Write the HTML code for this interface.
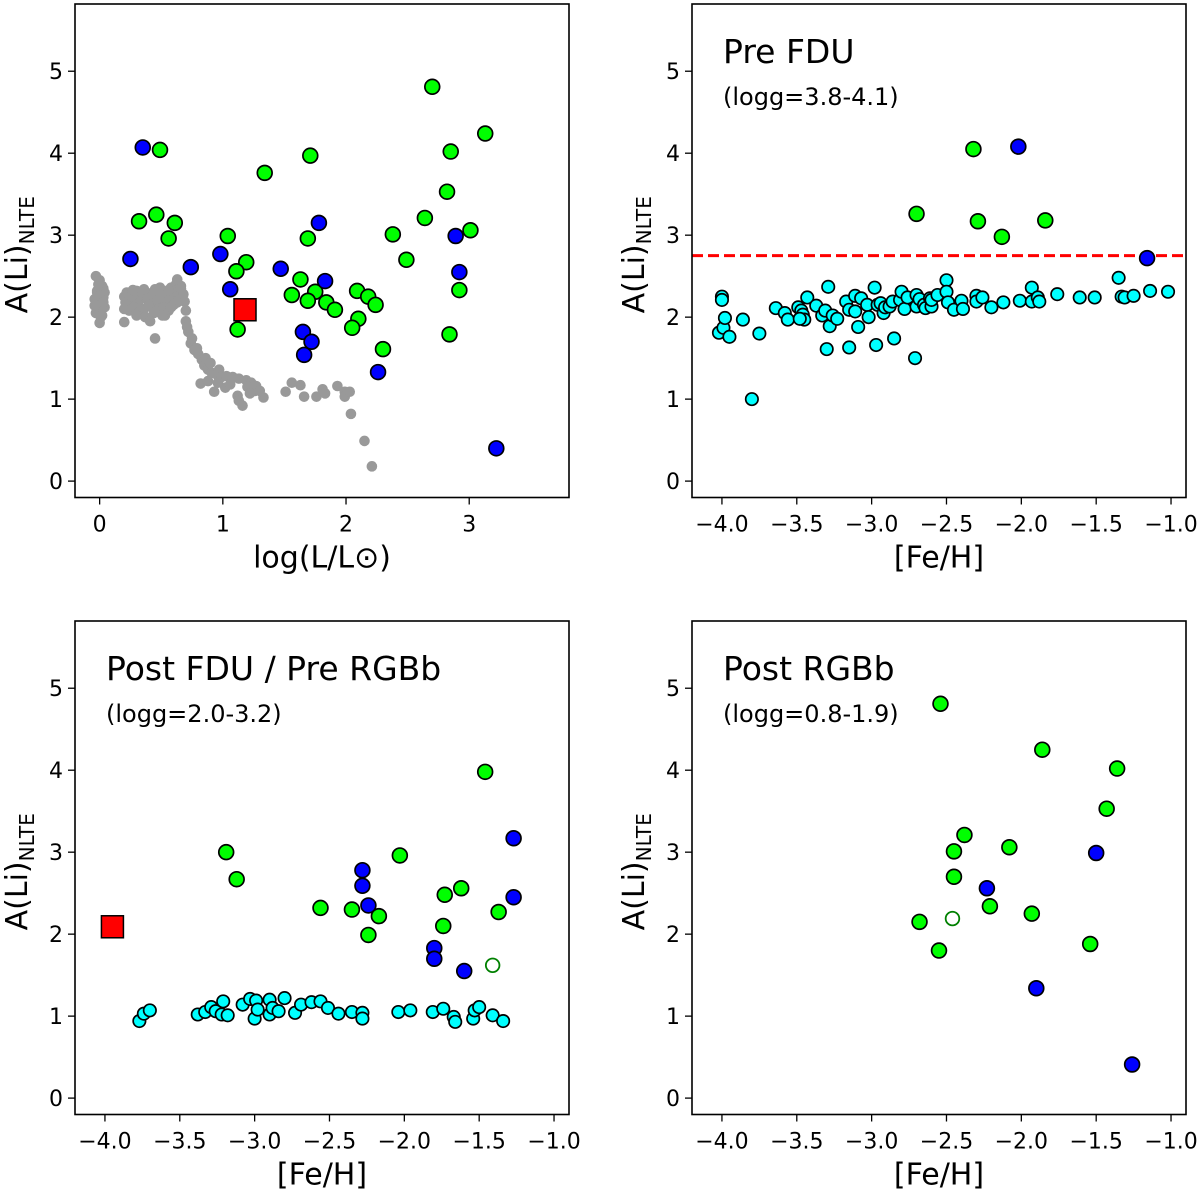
<!DOCTYPE html>
<html><head><meta charset="utf-8">
<style>
html,body{margin:0;padding:0;background:#fff;}
svg{display:block;font-family:"DejaVu Sans","Liberation Sans",sans-serif;}
</style></head>
<body>
<svg id="fig" width="1200" height="1194" viewBox="0 0 1200 1194" xmlns="http://www.w3.org/2000/svg"></svg>
<script>
// ---------- Data ----------
// Panel A: log(L/Lsun) vs A(Li)
const lumGray = [[-0.03,2.5],[0.0,2.45],[0.02,2.38],[-0.02,2.32],[0.01,2.28],[0.03,2.24],[-0.01,2.2],[0.0,2.15],[0.02,2.1],[-0.03,2.05],[0.01,2.0],[0.0,1.93],[-0.02,2.3],[0.03,2.35],[-0.01,2.4],[0.04,2.3],[-0.04,2.22],[0.04,2.12],[-0.04,2.14],[0.02,2.02],[0.0,2.26],[0.03,2.18],
 [0.2,2.25],[0.22,2.3],[0.25,2.2],[0.28,2.28],[0.3,2.32],[0.33,2.22],[0.35,2.26],[0.38,2.3],[0.4,2.18],[0.42,2.24],[0.45,2.34],[0.48,2.28],[0.5,2.2],[0.52,2.3],[0.55,2.26],[0.58,2.36],[0.6,2.24],[0.62,2.4],[0.64,2.3],
 [0.21,2.18],[0.26,2.26],[0.31,2.16],[0.34,2.3],[0.39,2.22],[0.43,2.16],[0.47,2.2],[0.51,2.24],[0.54,2.18],[0.57,2.22],[0.61,2.32],[0.65,2.2],[0.66,2.38],[0.27,2.33],[0.36,2.34],[0.49,2.36],[0.56,2.33],
 [0.2,2.1],[0.24,2.08],[0.28,2.12],[0.32,2.06],[0.36,2.1],[0.4,2.14],[0.44,2.05],[0.48,2.1],[0.52,2.12],[0.56,2.08],[0.6,2.15],[0.63,2.18],[0.3,2.02],[0.37,2.0],[0.45,2.06],[0.53,2.02],[0.58,2.12],
 [0.2,1.94],[0.45,1.74],[0.41,1.95],[0.51,2.02],
 [0.63,2.46],[0.66,2.35],[0.69,2.19],[0.68,2.28],[0.70,2.08],[0.70,1.95],[0.71,1.88],[0.72,1.82],[0.74,1.68],[0.75,1.74],[0.77,1.6],[0.80,1.55],[0.79,1.62],[0.83,1.48],[0.85,1.41],[0.86,1.5],[0.88,1.36],[0.9,1.44],[0.91,1.32],[0.95,1.3],[0.97,1.36],[0.99,1.27],[1.03,1.28],[1.08,1.27],[1.13,1.25],[1.19,1.23],[1.23,1.2],[1.27,1.16],[1.33,1.02],[1.26,1.1],[1.2,1.15],
 [0.82,1.19],[0.93,1.09],[1.02,1.14],[1.12,1.04],[1.13,0.98],[1.16,0.92],[1.22,1.07],[1.30,1.1],[0.88,1.22],[0.96,1.2],[1.06,1.18],
 [1.51,1.09],[1.56,1.20],[1.63,1.17],[1.66,1.03],[1.76,1.03],[1.81,1.12],[1.83,1.07],[1.93,1.16],[1.99,1.09],[1.99,1.03],[2.03,1.09],[2.04,0.82],[2.15,0.49],[2.21,0.18]];
const lumGreen = [[2.70,4.81],[3.13,4.24],[2.85,4.02],[0.49,4.04],[1.71,3.97],[1.34,3.76],[2.82,3.53],[0.46,3.25],[0.32,3.17],[0.61,3.15],[2.64,3.21],[3.01,3.06],[2.38,3.01],[1.04,2.99],[1.69,2.96],[0.56,2.96],[2.49,2.70],[1.19,2.67],[1.11,2.56],[1.63,2.46],[1.75,2.31],[1.56,2.27],[1.69,2.20],[2.09,2.32],[2.18,2.25],[1.84,2.18],[2.24,2.15],[1.91,2.09],[2.92,2.33],[2.10,1.98],[2.05,1.87],[1.12,1.85],[2.84,1.79],[2.30,1.61]];
const lumBlue = [[0.35,4.07],[1.78,3.15],[0.25,2.71],[0.98,2.77],[0.74,2.61],[2.89,2.99],[2.92,2.55],[1.47,2.59],[1.06,2.34],[1.83,2.44],[1.65,1.82],[1.72,1.70],[1.66,1.54],[2.26,1.33],[3.22,0.40]];
const lumRed = [[1.18,2.09]];
const lumTicks = [0,1,2,3];

// Panel B: Pre FDU
const preCyan = [[-4.00,2.25],[-4.00,2.21],[-4.02,1.81],[-3.99,1.87],[-3.98,1.99],[-3.95,1.76],[-3.86,1.97],[-3.80,1.00],[-3.75,1.80],[-3.64,2.11],[-3.58,2.05],[-3.56,1.97],[-3.49,2.12],[-3.47,2.08],[-3.46,2.03],[-3.45,1.97],[-3.48,1.98],[-3.43,2.24],[-3.37,2.14],[-3.33,2.02],[-3.31,2.08],[-3.29,2.37],[-3.30,1.61],[-3.28,1.89],[-3.26,2.02],[-3.23,1.98],[-3.17,2.19],[-3.15,2.09],[-3.15,1.63],[-3.11,2.07],[-3.11,2.26],[-3.07,2.23],[-3.09,1.88],[-3.03,2.15],[-3.02,2.00],[-2.98,2.36],[-2.97,1.66],[-2.96,2.15],[-2.94,2.17],[-2.92,2.05],[-2.91,2.12],[-2.88,2.13],[-2.86,2.19],[-2.85,1.74],[-2.81,2.21],[-2.80,2.31],[-2.78,2.10],[-2.76,2.24],[-2.71,1.50],[-2.70,2.27],[-2.70,2.13],[-2.68,2.22],[-2.65,2.15],[-2.64,2.11],[-2.61,2.23],[-2.60,2.13],[-2.60,2.21],[-2.56,2.27],[-2.50,2.45],[-2.50,2.31],[-2.49,2.18],[-2.45,2.09],[-2.40,2.20],[-2.39,2.10],[-2.30,2.26],[-2.30,2.19],[-2.26,2.24],[-2.20,2.12],[-2.12,2.18],[-2.01,2.20],[-1.93,2.36],[-1.93,2.19],[-1.89,2.24],[-1.88,2.19],[-1.76,2.28],[-1.61,2.24],[-1.51,2.24],[-1.35,2.48],[-1.33,2.25],[-1.31,2.24],[-1.25,2.26],[-1.14,2.32],[-1.02,2.31]];
const preGreen = [[-2.32,4.05],[-2.70,3.26],[-2.29,3.17],[-2.13,2.98],[-1.84,3.18]];
const preBlue = [[-2.02,4.08],[-1.16,2.72]];
const preLimit = [2.75];

// Panel C: Post FDU / Pre RGBb
const postCyan = [[-3.77,0.94],[-3.74,1.03],[-3.70,1.07],[-3.38,1.02],[-3.33,1.05],[-3.29,1.11],[-3.26,1.06],[-3.22,1.02],[-3.21,1.18],[-3.18,1.01],[-3.08,1.14],[-3.03,1.21],[-3.00,0.97],[-2.99,1.19],[-2.98,1.08],[-2.90,1.20],[-2.90,1.02],[-2.88,1.10],[-2.84,1.06],[-2.80,1.22],[-2.73,1.04],[-2.69,1.14],[-2.62,1.17],[-2.56,1.18],[-2.51,1.10],[-2.44,1.03],[-2.35,1.05],[-2.28,1.04],[-2.28,0.97],[-2.04,1.05],[-1.96,1.07],[-1.81,1.05],[-1.74,1.09],[-1.67,0.99],[-1.66,0.93],[-1.54,0.97],[-1.53,1.07],[-1.50,1.11],[-1.41,1.01],[-1.34,0.94]];
const postGreen = [[-3.19,3.00],[-3.12,2.67],[-2.56,2.32],[-2.35,2.30],[-2.17,2.22],[-2.24,1.99],[-2.03,2.96],[-1.46,3.98],[-1.62,2.56],[-1.73,2.48],[-1.37,2.27],[-1.74,2.10]];
const postBlue = [[-2.28,2.78],[-2.28,2.59],[-2.24,2.35],[-1.27,3.17],[-1.27,2.45],[-1.80,1.83],[-1.80,1.70],[-1.60,1.55]];
const postOpen = [[-1.41,1.62]];
const postRed = [[-3.95,2.09]];

// Panel D: Post RGBb
const rgbGreen = [[-2.54,4.81],[-1.86,4.25],[-1.36,4.02],[-1.43,3.53],[-2.38,3.21],[-2.08,3.06],[-2.45,3.01],[-2.45,2.70],[-2.21,2.34],[-1.93,2.25],[-2.68,2.15],[-2.55,1.80],[-1.54,1.88]];
const rgbBlue = [[-1.50,2.99],[-2.23,2.56],[-1.90,1.34],[-1.26,0.41]];
const rgbOpen = [[-2.46,2.19]];

const yTicks = [0,1,2,3,4,5];
const fehTicks = [-4.0,-3.5,-3.0,-2.5,-2.0,-1.5,-1.0];

// ---------- Drawing ----------
const NS = "http://www.w3.org/2000/svg";
const svg = document.getElementById('fig');
function mk(tag, attrs, parent){
  const e = document.createElementNS(NS, tag);
  for (const k in attrs) e.setAttribute(k, attrs[k]);
  (parent||svg).appendChild(e);
  return e;
}
const W = 494, H = 493.5;
const YMIN = -0.2, YMAX = 5.82;

function makePanel(name, left, top, xmin, xmax){
  const g = mk('g', {});
  
  
  const sx = v => left + (v - xmin) / (xmax - xmin) * W;
  const sy = v => top + H - (v - YMIN) / (YMAX - YMIN) * H;
  return {g, sx, sy, left, top};
}
function frame(p){
  const r = mk('rect', {x:p.left, y:p.top, width:W, height:H, fill:'none', stroke:'#000', 'stroke-width':1.6}, p.g);
  
  
}
function axes(p, xticks, fmt, xlabelNodes){
  const yg = mk('g', {}, p.g);
  
  
  yTicks.forEach(t => {
    const y = p.sy(t);
    mk('line', {x1:p.left-7, x2:p.left, y1:y, y2:y, stroke:'#000', 'stroke-width':1.3}, yg);
    const tx = mk('text', {x:p.left-12, y:y+8, 'text-anchor':'end', 'font-size':22, fill:'#000'}, yg);
    tx.textContent = String(t);
    
    
  });
  const xg = mk('g', {}, p.g);
  
  
  xticks.forEach(t => {
    const x = p.sx(t);
    mk('line', {x1:x, x2:x, y1:p.top+H, y2:p.top+H+7, stroke:'#000', 'stroke-width':1.3}, xg);
    const tx = mk('text', {x:x, y:p.top+H+34, 'text-anchor':'middle', 'font-size':22, fill:'#000'}, xg);
    tx.textContent = fmt(t);
    
    
  });
  const yt = mk('text', {transform:`translate(${p.left-48},${p.top+H/2+4}) rotate(-90)`, 'text-anchor':'middle', 'font-size':30, fill:'#000'}, p.g);
  
  
  yt.appendChild(document.createTextNode('A(Li)'));
  const sub = mk('tspan', {'font-size':20, dy:7}, yt);
  sub.textContent = 'NLTE';
  const xt = mk('text', {x:p.left+W/2, y:p.top+H+70, 'text-anchor':'middle', 'font-size':30, fill:'#000'}, p.g);
  
  
  xt.textContent = xlabelNodes;
}
function scatter(p, pts, r, fill, stroke, sw, name){
  const g = mk('g', {}, p.g);
  
  
  pts.forEach(d => {
    const c = mk('circle', {cx:p.sx(d[0]), cy:p.sy(d[1]), r:r, fill:fill, stroke:stroke, 'stroke-width':sw}, g);
    
    
  });
}
function squares(p, pts, name){
  pts.forEach(d => {
    const s = 22;
    const rc = mk('rect', {x:p.sx(d[0])-s/2, y:p.sy(d[1])-s/2, width:s, height:s, fill:'#ff0000', stroke:'#000', 'stroke-width':1.5}, p.g);
    
    
  });
}
function titles(p, t1, t2){
  const a = mk('text', {x:p.left+31, y:p.top+59, 'font-size':33, fill:'#000'}, p.g);
  a.textContent = t1;
  
  
  const b = mk('text', {x:p.left+31, y:p.top+101, 'font-size':24, fill:'#000'}, p.g);
  b.textContent = t2;
  
  
}
const fmtFeh = t => (t < 0 ? '\u2212' : '') + Math.abs(t).toFixed(1);

const GREEN = '#00ff00', BLUE = '#0000ff', CYAN = '#00ffff', GRAY = '#999999';

// Panel A
const pA = makePanel('luminosity-panel', 75, 4, -0.2, 3.81);
scatter(pA, lumGray, 5.3, GRAY, 'none', 0, 'gray-sample');
scatter(pA, lumGreen, 7.4, GREEN, '#000', 1.7, 'green-stars');
scatter(pA, lumBlue, 7.4, BLUE, '#000', 1.7, 'blue-stars');
squares(pA, lumRed, 'red-square-star');
frame(pA);
axes(pA, lumTicks, t => String(t), 'log(L/L\u2299)');

// Panel B
const pB = makePanel('pre-fdu-panel', 692, 4, -4.2, -0.9);
const lim = mk('line', {x1:pB.left, x2:pB.left+W, y1:pB.sy(preLimit[0]), y2:pB.sy(preLimit[0]), stroke:'#ff0000', 'stroke-width':3, 'stroke-dasharray':'11,5'}, pB.g);


scatter(pB, preCyan, 6.2, CYAN, '#000', 1.7, 'cyan-sample');
scatter(pB, preGreen, 7.4, GREEN, '#000', 1.7, 'green-stars');
scatter(pB, preBlue, 7.4, BLUE, '#000', 1.7, 'blue-stars');
frame(pB);
axes(pB, fehTicks, fmtFeh, '[Fe/H]');
titles(pB, 'Pre FDU', '(logg=3.8-4.1)');

// Panel C
const pC = makePanel('post-fdu-panel', 75, 621, -4.2, -0.9);
scatter(pC, postCyan, 6.2, CYAN, '#000', 1.7, 'cyan-sample');
scatter(pC, postGreen, 7.4, GREEN, '#000', 1.7, 'green-stars');
scatter(pC, postBlue, 7.4, BLUE, '#000', 1.7, 'blue-stars');
scatter(pC, postOpen, 6.8, 'none', '#008000', 1.8, 'open-star');
squares(pC, postRed, 'red-square-star');
frame(pC);
axes(pC, fehTicks, fmtFeh, '[Fe/H]');
titles(pC, 'Post FDU / Pre RGBb', '(logg=2.0-3.2)');

// Panel D
const pD = makePanel('post-rgbb-panel', 692, 621, -4.2, -0.9);
scatter(pD, rgbGreen, 7.4, GREEN, '#000', 1.7, 'green-stars');
scatter(pD, rgbBlue, 7.4, BLUE, '#000', 1.7, 'blue-stars');
scatter(pD, rgbOpen, 6.8, 'none', '#008000', 1.8, 'open-star');
frame(pD);
axes(pD, fehTicks, fmtFeh, '[Fe/H]');
titles(pD, 'Post RGBb', '(logg=0.8-1.9)');
</script>
</body></html>
